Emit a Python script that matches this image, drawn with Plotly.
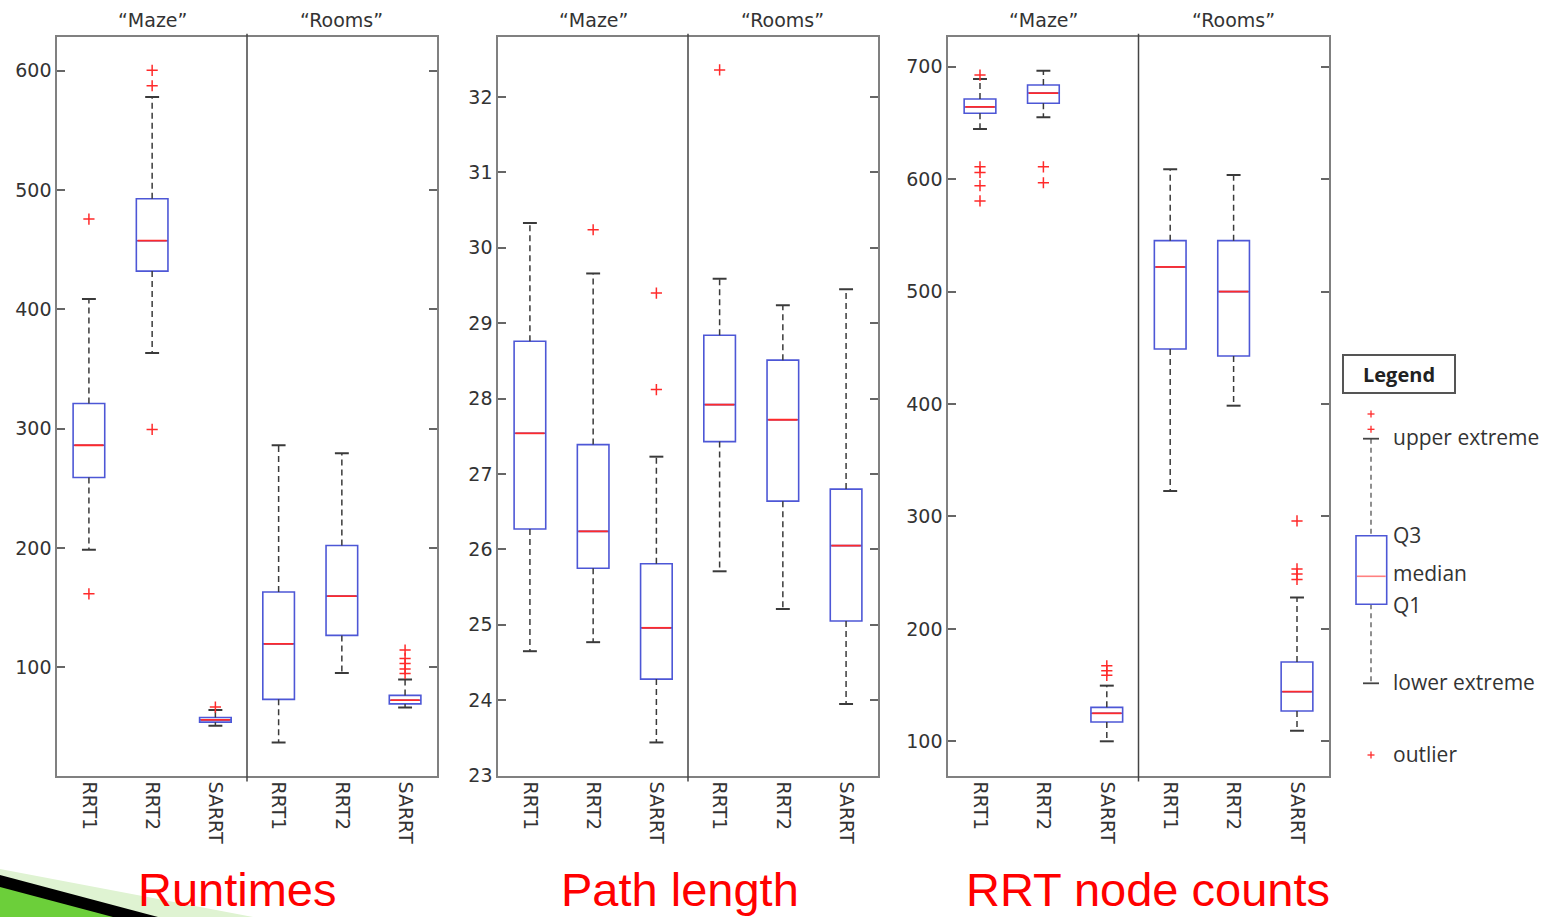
import plotly.graph_objects as go

W, H = 1551, 917

categories = ["RRT1", "RRT2", "SARRT", "RRT1", "RRT2", "SARRT"]
groups = ["\u201cMaze\u201d", "\u201cRooms\u201d"]
panel_titles = ["Runtimes", "Path length", "RRT node counts"]

runtime_q1 = [259, 432, 53.9, 73, 126.6, 69.2]
runtime_med = [286, 457.5, 55.8, 119.5, 159.5, 72.3]
runtime_q3 = [321, 492.7, 57.8, 163, 202, 76.3]
runtime_lo = [198.4, 363.3, 50.8, 36.9, 95, 66.2]
runtime_hi = [408.6, 578, 64, 286, 279.4, 89.7]
runtime_out = [[475.6, 161.5], [600.3, 587.4, 299.3], [66.5], [], [], [114.3, 107.3, 103, 98.5, 94.7]]

path_q1 = [26.27, 25.75, 24.28, 27.43, 26.64, 25.05]
path_med = [27.54, 26.24, 24.96, 27.92, 27.72, 26.05]
path_q3 = [28.76, 27.39, 25.81, 28.84, 28.51, 26.80]
path_lo = [24.65, 24.77, 23.44, 25.71, 25.21, 23.95]
path_hi = [30.33, 29.66, 27.23, 29.59, 29.24, 29.45]
path_out = [[], [30.24], [29.40, 28.12], [32.36], [], []]

nodes_q1 = [658.6, 667.5, 117.2, 448.9, 442.7, 127.0]
nodes_med = [664.2, 676.6, 124.9, 521.9, 500.0, 144.1]
nodes_q3 = [671.3, 683.7, 130.2, 545.3, 545.3, 170.5]
nodes_lo = [644.6, 655.0, 100.0, 322.6, 398.5, 109.4]
nodes_hi = [689.0, 696.5, 149.5, 608.8, 603.7, 228.0]
nodes_out = [[692.6, 611, 606, 594.2, 580.6], [611, 596.8], [167.2, 162.8, 158.7], [], [],
             [296, 253.3, 248.8, 244]]

y_ranges = [[9, 628.5], [22.999, 32.8], [69.4, 726.7]]
y_dticks = [100, 1, 100]

# pixel layout helpers
def px(x):
    return x / W

def py(y):
    return 1 - y / H

x_domains = [(57.3, 436.7), (498.3, 877.7), (948.3, 1328.7)]
y_top, y_bot = 36.7, 775.7
title_x = [237, 680, 1148]

BLUE = "#4d57d6"
RED = "#ff2a2a"
WHISK = "#3a3a3a"
AXC = "#808080"
TXT = "#333333"
FONT = "DejaVu Sans"

panels = [
    (runtime_q1, runtime_med, runtime_q3, runtime_lo, runtime_hi, runtime_out),
    (path_q1, path_med, path_q3, path_lo, path_hi, path_out),
    (nodes_q1, nodes_med, nodes_q3, nodes_lo, nodes_hi, nodes_out),
]

fig = go.Figure()
BOXW = 0.5
CAPW = 0.11
shapes = []
annotations = []

for p, (q1, med, q3, lo, hi, outs) in enumerate(panels):
    xa = "x" if p == 0 else f"x{p+1}"
    ya = "y" if p == 0 else f"y{p+1}"
    pos = list(range(len(categories)))
    # whiskers
    wx, wy = [], []
    for i in pos:
        wx += [i, i, None, i, i, None]
        wy += [q3[i], hi[i], None, q1[i], lo[i], None]
    fig.add_trace(go.Scatter(x=wx, y=wy, mode="lines", xaxis=xa, yaxis=ya,
                             line=dict(color=WHISK, width=1.5, dash="6px,4px"),
                             hoverinfo="skip", showlegend=False))
    # caps
    cx, cy = [], []
    for i in pos:
        cx += [i - CAPW, i + CAPW, None, i - CAPW, i + CAPW, None]
        cy += [hi[i], hi[i], None, lo[i], lo[i], None]
    fig.add_trace(go.Scatter(x=cx, y=cy, mode="lines", xaxis=xa, yaxis=ya,
                             line=dict(color=WHISK, width=2),
                             hoverinfo="skip", showlegend=False))
    # boxes
    fig.add_trace(go.Box(x=pos, q1=q1, median=med, q3=q3, lowerfence=q1, upperfence=q3,
                         width=BOXW, xaxis=xa, yaxis=ya, boxpoints=False,
                         line=dict(color=BLUE, width=1.6), fillcolor="rgba(0,0,0,0)",
                         whiskerwidth=0, showlegend=False))
    # medians
    mx, my = [], []
    for i in pos:
        mx += [i - BOXW / 2 + 0.02, i + BOXW / 2 - 0.02, None]
        my += [med[i], med[i], None]
    fig.add_trace(go.Scatter(x=mx, y=my, mode="lines", xaxis=xa, yaxis=ya,
                             line=dict(color=RED, width=1.8),
                             hoverinfo="skip", showlegend=False))
    # outliers
    ox, oy = [], []
    for i in pos:
        for v in outs[i]:
            ox.append(i)
            oy.append(v)
    fig.add_trace(go.Scatter(x=ox, y=oy, mode="markers", xaxis=xa, yaxis=ya,
                             marker=dict(symbol="cross-thin", size=8, color=RED,
                                         line=dict(color=RED, width=1.5)),
                             hoverinfo="skip", showlegend=False))

    # divider between groups
    shapes.append(dict(type="line", xref=xa, yref=f"{ya} domain", x0=2.5, x1=2.5,
                       y0=-0.008, y1=1.004, line=dict(color="#444", width=1.5), layer="above"))
    # group labels
    for g, gx in zip(groups, [1, 4]):
        annotations.append(dict(text=g, xref=xa, yref="paper", x=gx, y=py(20),
                                showarrow=False, font=dict(family=FONT, size=19, color=TXT),
                                xanchor="center", yanchor="middle"))
    # panel titles
    annotations.append(dict(text=panel_titles[p], xref="paper", yref="paper",
                            x=px(title_x[p]), y=py(889), showarrow=False,
                            font=dict(family="Liberation Sans, Arial", size=47, color="#ff0000"),
                            xanchor="center", yanchor="middle"))

layout = dict(width=W, height=H, plot_bgcolor="white", paper_bgcolor="white",
              margin=dict(l=0, r=0, t=0, b=0, autoexpand=False), showlegend=False)
for p in range(3):
    xk = "xaxis" if p == 0 else f"xaxis{p+1}"
    yk = "yaxis" if p == 0 else f"yaxis{p+1}"
    ya = "y" if p == 0 else f"y{p+1}"
    xa = "x" if p == 0 else f"x{p+1}"
    layout[xk] = dict(domain=[px(x_domains[p][0]), px(x_domains[p][1])], anchor=ya,
                      range=[-0.5, 5.5], tickvals=list(range(6)), ticktext=categories,
                      tickangle=90, ticks="", showline=True, mirror=True, linecolor=AXC,
                      linewidth=2, showgrid=False, zeroline=False,
                      tickfont=dict(family=FONT, size=19, color=TXT))
    layout[yk] = dict(domain=[py(y_bot), py(y_top)], anchor=xa, range=y_ranges[p],
                      dtick=y_dticks[p], ticks="inside", ticklen=8, tickwidth=2, tickcolor="#666",
                      showline=True, mirror="ticks", linecolor=AXC, linewidth=2,
                      showgrid=False, zeroline=False,
                      tickfont=dict(family=FONT, size=19, color=TXT))

# ---- Legend panel (explanatory glyph drawn on paper) ----
LF = "Open Sans"
lx = 1371
shapes.append(dict(type="rect", xref="paper", yref="paper", x0=px(1343), x1=px(1455),
                   y0=py(393), y1=py(355), line=dict(color="#555", width=2)))
annotations.append(dict(text="<b>Legend</b>", xref="paper", yref="paper", x=px(1399), y=py(374),
                        showarrow=False, font=dict(family=LF, size=20, color="#222"),
                        xanchor="center", yanchor="middle"))
# whiskers
for y0, y1 in [(438.7, 535.7), (604.3, 683.3)]:
    shapes.append(dict(type="line", xref="paper", yref="paper", x0=px(lx), x1=px(lx),
                       y0=py(y0), y1=py(y1), line=dict(color="#555", width=1.3, dash="5px,4px")))
for yc in [438.7, 683.3]:
    shapes.append(dict(type="line", xref="paper", yref="paper", x0=px(lx - 8), x1=px(lx + 8),
                       y0=py(yc), y1=py(yc), line=dict(color="#444", width=1.8)))
shapes.append(dict(type="rect", xref="paper", yref="paper", x0=px(1356), x1=px(1386.7),
                   y0=py(604.3), y1=py(535.7), line=dict(color=BLUE, width=1.6)))
shapes.append(dict(type="line", xref="paper", yref="paper", x0=px(1357), x1=px(1385.7),
                   y0=py(576.3), y1=py(576.3), line=dict(color="#ff8080", width=1.6)))
for yc in [414, 429.3, 755]:
    shapes.append(dict(type="line", xref="paper", yref="paper", x0=px(lx - 3.5), x1=px(lx + 3.5),
                       y0=py(yc), y1=py(yc), line=dict(color=RED, width=1.3)))
    shapes.append(dict(type="line", xref="paper", yref="paper", x0=px(lx), x1=px(lx),
                       y0=py(yc - 3.5), y1=py(yc + 3.5), line=dict(color=RED, width=1.3)))
for txt, yc in [("upper extreme", 437), ("Q3", 535), ("median", 573), ("Q1", 605),
                ("lower extreme", 682), ("outlier", 754)]:
    annotations.append(dict(text=txt, xref="paper", yref="paper", x=px(1391), y=py(yc),
                            showarrow=False, font=dict(family=LF, size=21, color=TXT),
                            xanchor="left", yanchor="middle"))

# ---- slide decoration (bottom-left) ----
def poly(pts):
    return "M " + " L ".join(f"{px(x)},{py(y)}" for x, y in pts) + " Z"

shapes.append(dict(type="path", xref="paper", yref="paper", path=poly([(0, 869), (253, 917), (0, 917)]),
                   fillcolor="#dff3d2", line=dict(width=0), layer="below"))
shapes.append(dict(type="path", xref="paper", yref="paper", path=poly([(0, 875), (158, 917), (0, 917)]),
                   fillcolor="#000000", line=dict(width=0), layer="below"))
shapes.append(dict(type="path", xref="paper", yref="paper", path=poly([(0, 887), (113, 917), (0, 917)]),
                   fillcolor="#6ccf3a", line=dict(width=0), layer="below"))

layout["shapes"] = shapes
layout["annotations"] = annotations
fig.update_layout(**layout)
fig.write_html("out.html", config={"displayModeBar": False},
               post_script="document.body.style.margin='0';document.body.style.overflow='hidden';")
